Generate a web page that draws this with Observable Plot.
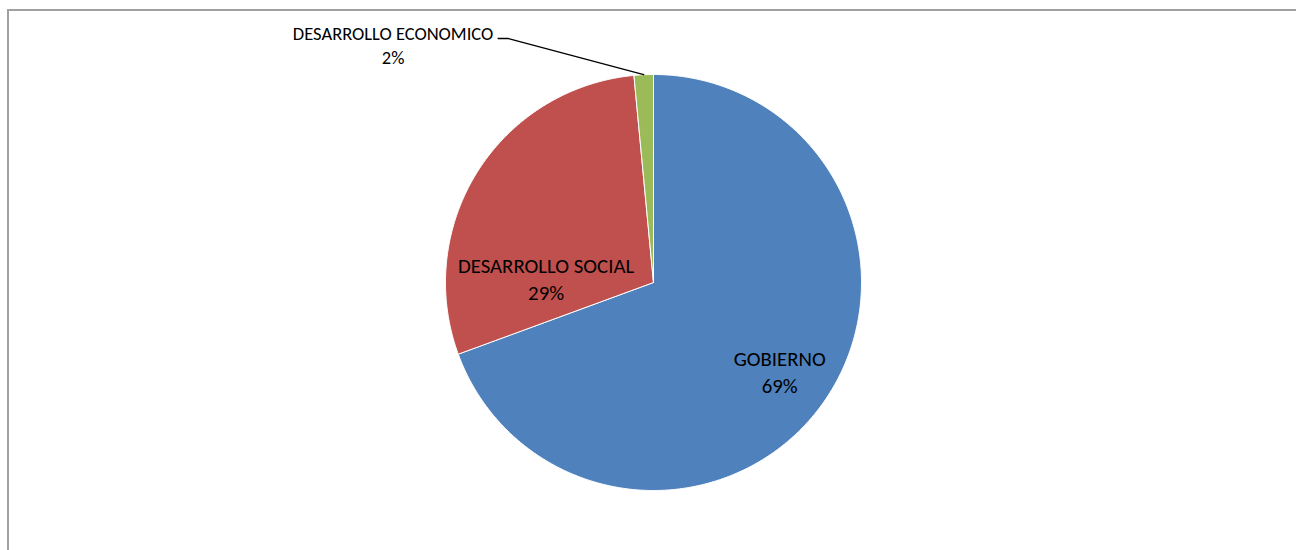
<!DOCTYPE html>
<html>
<head>
<meta charset="utf-8">
<script src="https://cdn.jsdelivr.net/npm/d3@7"></script>
<script src="https://cdn.jsdelivr.net/npm/@observablehq/plot@0.6"></script>
<style>
  html, body { margin: 0; padding: 0; background: #fff; overflow: hidden; }
  #wrap { position: relative; width: 1296px; height: 550px; overflow: hidden; }
  #border { position: absolute; left: 7px; top: 9px; width: 1400px; height: 700px; border: 2px solid #a0a0a0; box-sizing: border-box; }
  #chart { position: absolute; left: 0; top: 0; }
</style>
</head>
<body>
<div id="wrap"><div id="border"></div><div id="chart"></div></div>
<script>
// ---- data ----
const categories = ["GOBIERNO", "DESARROLLO SOCIAL", "DESARROLLO ECONOMICO"];
const values = [69.4, 29.1, 1.5];
const colors = ["#4F81BD", "#C0504D", "#9BBB59"];

// ---- layout (not data) ----
const FONT = "Carlito, Calibri, Lato, 'Open Sans', sans-serif";
const cx = 653, cy = 282, R = 208;
// inside label placement: [angle in degrees clockwise from top, radius fraction]
const insideLabel = {
  "GOBIERNO": null,                 // null = use slice mid-angle
  "DESARROLLO SOCIAL": [272.4, 0.517]
};
const insideFrac = 0.74;

const total = d3.sum(values);
const arcs = d3.pie().sort(null).value(d => d)(values);

// slice polygons
const poly = [];
arcs.forEach((a, i) => {
  const n = Math.max(2, Math.ceil((a.endAngle - a.startAngle) / (Math.PI * 2) * 720));
  poly.push({cat: categories[i], x: 0, y: 0});
  for (let k = 0; k <= n; k++) {
    const t = a.startAngle + (a.endAngle - a.startAngle) * k / n;
    poly.push({cat: categories[i], x: Math.sin(t), y: Math.cos(t)});
  }
  poly.push({cat: categories[i], x: 0, y: 0});
});

const pct = v => Math.round(v / total * 100) + "%";

// inside labels
const inLabels = [];
arcs.forEach((a, i) => {
  const c = categories[i];
  if (!(c in insideLabel)) return;
  let ang, fr;
  if (insideLabel[c]) { ang = insideLabel[c][0] * Math.PI / 180; fr = insideLabel[c][1]; }
  else { ang = (a.startAngle + a.endAngle) / 2; fr = insideFrac; }
  inLabels.push({x: fr * Math.sin(ang), y: fr * Math.cos(ang), text: c + "\n" + pct(values[i])});
});

// outside label with leader line for the small slice
const iSmall = 2;
const mid = (arcs[iSmall].startAngle + arcs[iSmall].endAngle) / 2;
const elbow = {x: -0.697, y: 1.173};
const leader = [
  {x: Math.sin(mid), y: Math.cos(mid)},
  elbow,
  {x: elbow.x - 0.05, y: elbow.y}
];
const outLabel = [{x: -1.252, y: 1.144, text: categories[iSmall] + "\n" + pct(values[iSmall])}];

const chart = Plot.plot({
  width: 1296,
  height: 550,
  margin: 0,
  style: {background: "transparent", fontFamily: FONT, overflow: "visible"},
  x: {domain: [-1, 1], range: [cx - R, cx + R], axis: null},
  y: {domain: [-1, 1], range: [cy + R, cy - R], axis: null},
  color: {domain: categories, range: colors},
  marks: [
    Plot.line(poly, {x: "x", y: "y", z: "cat", fill: "cat", stroke: "white", strokeWidth: 1, strokeLinejoin: "round", curve: "linear"}),
    Plot.line(leader, {x: "x", y: "y", stroke: "black", strokeWidth: 1.3}),
    Plot.text(inLabels, {x: "x", y: "y", text: "text", fontSize: 20.8, lineHeight: 1.3, fill: "#000"}),
    Plot.text(outLabel, {x: "x", y: "y", text: "text", fontSize: 18.5, lineHeight: 1.3, fill: "#000"})
  ]
});
document.getElementById("chart").appendChild(chart);
</script>
</body>
</html>
